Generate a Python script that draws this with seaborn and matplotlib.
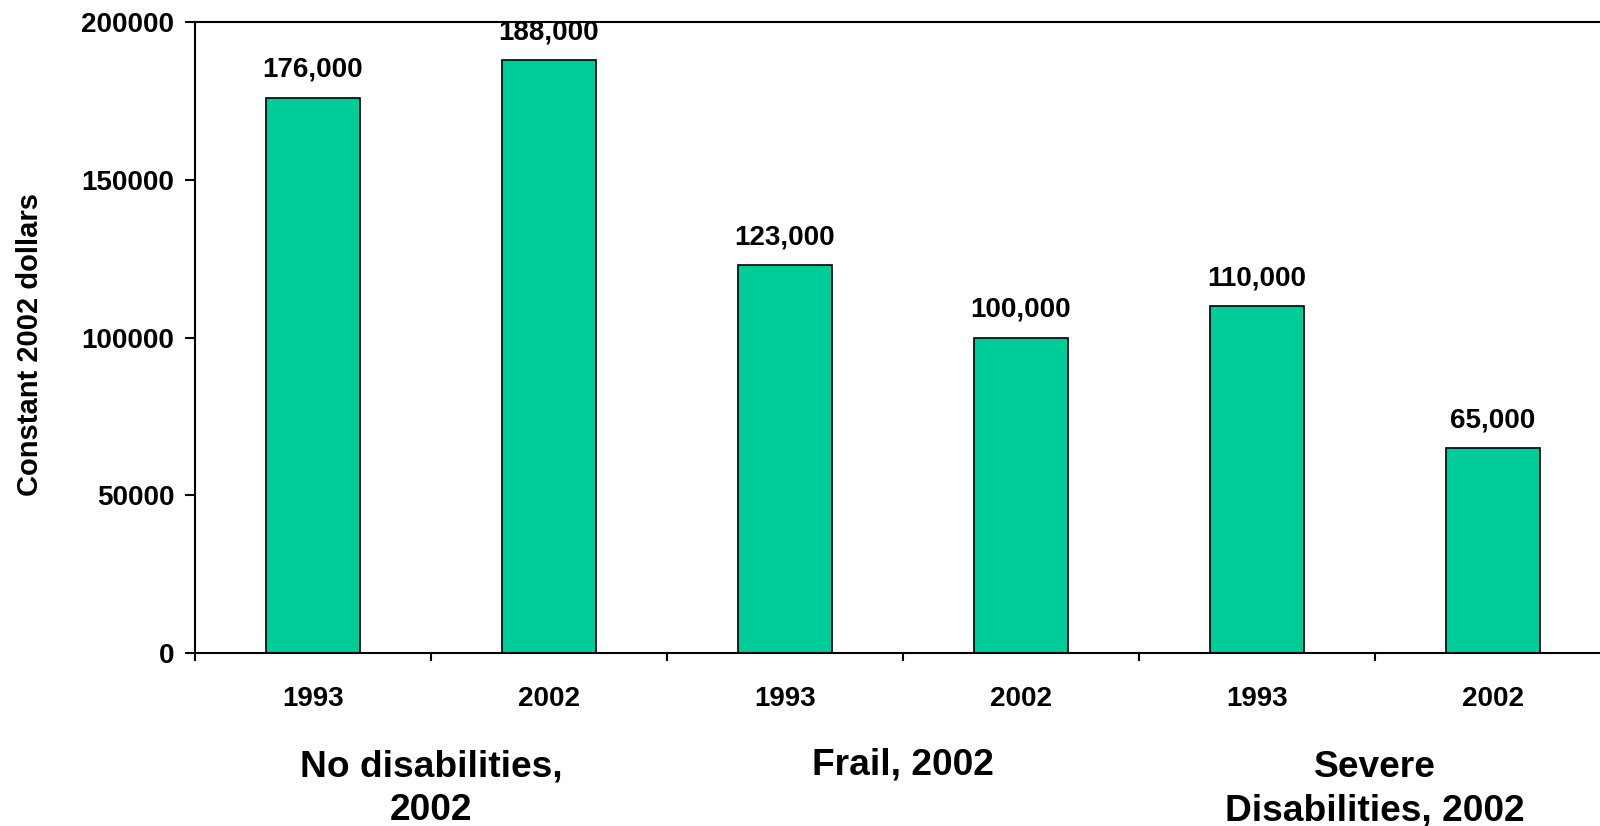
import matplotlib
matplotlib.use("Agg")
import matplotlib.pyplot as plt
import matplotlib.transforms as mtransforms
import seaborn as sns
import pandas as pd
import numpy as np

# Median net worth by disability status, survey years 1993 and 2002
groups = ["No disabilities,\n2002", "Frail, 2002", "Severe\nDisabilities, 2002"]
years = ["1993", "2002"]
values = [176000, 188000, 123000, 100000, 110000, 65000]
value_labels = ["176,000", "188,000", "123,000", "100,000", "110,000", "65,000"]
y_ticks = [0, 50000, 100000, 150000, 200000]

slots = [f"{g}|{y}" for g in groups for y in years]
df = pd.DataFrame({"slot": slots, "value": values})

sns.set_theme(style="white")
plt.rcParams["font.family"] = ["Liberation Sans", "DejaVu Sans"]
plt.rcParams["font.weight"] = "bold"
plt.rcParams["text.color"] = "black"
plt.rcParams["axes.labelcolor"] = "black"
plt.rcParams["xtick.color"] = "black"
plt.rcParams["ytick.color"] = "black"

fig = plt.figure(figsize=(16, 8.26), dpi=100)
ax = fig.add_axes([195 / 1600, (826 - 653) / 826, 1416 / 1600, (653 - 22) / 826])

sns.barplot(data=df, x="slot", y="value", order=slots, width=0.4,
            color="#00CC99", saturation=1, edgecolor="black", linewidth=1.2,
            ax=ax)

ax.set_xlim(-0.5, len(slots) - 0.5)
ax.set_ylim(0, 200000)
ax.set_yticks(y_ticks)
ax.set_yticklabels([str(t) for t in y_ticks], fontsize=20, fontweight="bold",
                   color="black")
ax.set_xticks(range(len(slots)))
ax.set_xticklabels([s.split("|")[1] for s in slots], fontsize=20,
                   fontweight="bold", color="black")
ax.set_xticks(np.arange(-0.5, len(slots), 1.0), minor=True)
ax.tick_params(axis="x", which="major", length=0, pad=24)
ax.tick_params(axis="x", which="minor", length=6, width=1.5, direction="out",
               color="black", bottom=True)
ax.tick_params(axis="y", length=7, width=1.5, direction="out", color="black",
               pad=8, left=True)

for side in ["left", "bottom", "top"]:
    ax.spines[side].set_visible(True)
    ax.spines[side].set_color("black")
    ax.spines[side].set_linewidth(1.5)
ax.spines["right"].set_visible(False)

ax.set_xlabel("")
ax.set_ylabel("Constant 2002 dollars", fontsize=21, fontweight="bold",
              color="black")
ax.yaxis.set_label_coords(-0.1066, 0.489)
ax.grid(False)

# value labels above each bar
for i, (v, lab) in enumerate(zip(values, value_labels)):
    ax.annotate(lab, xy=(i, v), xytext=(0, 15), textcoords="offset points",
                ha="center", va="baseline", fontsize=20, fontweight="bold",
                color="black")

# group captions under each pair of bars; first lines share one baseline
trans = mtransforms.blended_transform_factory(ax.transData, fig.transFigure)
line_gap = 45
for k, g in enumerate(groups):
    n_lines = g.count("\n") + 1
    base_px = 775 + line_gap * (n_lines - 1)
    ax.text(2 * k + 0.5, (826 - base_px) / 826, g, transform=trans,
            ha="center", va="baseline", multialignment="center",
            fontsize=26.7, fontweight="bold", linespacing=1.3, clip_on=False,
            color="black")

fig.savefig("out.png", dpi=100)
